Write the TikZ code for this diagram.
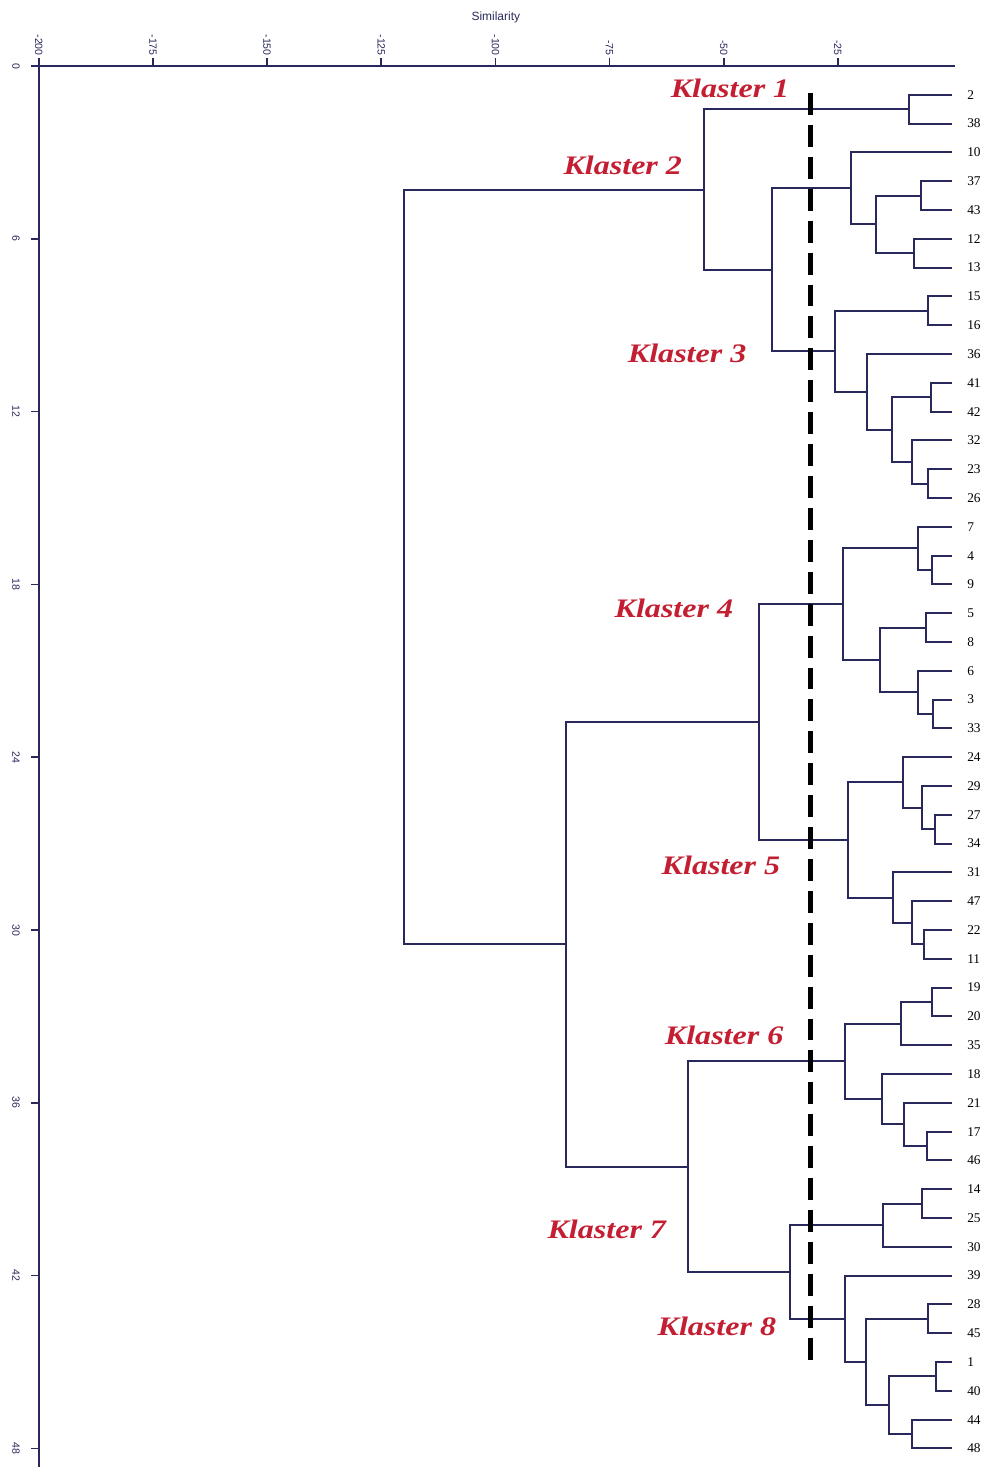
\documentclass[tikz,border=0pt]{standalone}
\usepackage{fontspec}
\setmainfont{Liberation Serif}
\setsansfont{Liberation Sans}
\usetikzlibrary{calc}
\definecolor{navy}{RGB}{40,40,90}
\definecolor{klred}{RGB}{196,30,50}

\begin{document}
\begin{tikzpicture}[x=0.11415cm,y=-0.72cm]
	\tikzset{link/.style={navy,line width=1.4pt},
		leaf/.style={anchor=west,inner sep=0pt,xshift=0.375cm,font=\fontsize{9.5}{11}\selectfont},
		klaster/.style={klred,xscale=1.2,font=\fontsize{19}{22}\selectfont\bfseries\itshape},
		tick/.style={rotate=-90,inner sep=1pt,navy,font=\sffamily\fontsize{7.5}{8}\selectfont}}
	
	\useasboundingbox (-23.8cm,1.65cm) rectangle (0.825cm,-35.025cm);
	
	% axes
	\coordinate (O) at (-200,0);
	\coordinate (xend) at (0.7,0);
	\coordinate (yend) at (-200,48.7);
	\draw[navy,line width=1.8pt] (xend) -- (O) -- (yend);
	
	\foreach \s in {-200,-175,...,-25}
		\draw[navy,line width=1.2pt] (\s,0) -- (\s,-0.28) node[tick,anchor=east] {\s};
	\foreach \k in {0,6,...,48}{
		\draw[navy,line width=1.2pt] (-200,\k) -- (-201.75,\k);
		\node[tick] (y\k) at (-205,\k) {\k};
	}
	\node[navy,font=\sffamily\fontsize{8.5}{10}\selectfont] (sim) at (-99.9,-1.7) {Similarity};
	
	% leaves
	\foreach \n [count=\i] in {2,38,10,37,43,12,13,15,16,36,41,42,32,23,26,7,4,9,5,8,6,3,33,24,29,27,34,31,47,22,11,19,20,35,18,21,17,46,14,25,30,39,28,45,1,40,44,48}{
		\coordinate (l\n) at (0,\i);
		\node[leaf] (n\n) at (l\n) {\n};
	}
	
	% joins: name/level/height/child/child
	\foreach \m/\x/\y/\a/\b in {
		m1/-9.4/1.5/l2/l38,
		m2/-6.8/4.5/l37/l43, m3/-8.3/6.5/l12/l13, m4/-16.6/5.5/m2/m3, m5/-22.1/4.25/l10/m4,
		m6/-5.3/8.5/l15/l16, m7/-4.6/11.5/l41/l42, m8/-5.3/14.5/l23/l26, m9/-8.8/13.75/l32/m8,
		m10/-13.1/12.625/m7/m9, m11/-18.6/11.3125/l36/m10, m12/-25.6/9.90625/m6/m11,
		m13/-39.4/7.078/m5/m12, m14/-54.3/4.289/m1/m13,
		m15/-4.4/17.5/l4/l9, m16/-7.4/16.75/l7/m15, m17/-5.7/19.5/l5/l8, m18/-4.2/22.5/l3/l33,
		m19/-7.4/21.75/l6/m18, m20/-15.8/20.625/m17/m19, m21/-23.9/18.6875/m16/m20,
		m22/-3.7/26.5/l27/l34, m23/-6.6/25.75/l29/m22, m24/-10.7/24.875/l24/m23,
		m25/-6.1/30.5/l22/l11, m26/-8.8/29.75/l47/m25, m27/-12.9/28.875/l31/m26,
		m28/-22.8/26.875/m24/m27, m29/-42.3/22.78/m21/m28,
		m30/-4.4/32.5/l19/l20, m31/-11.2/33.25/m30/l35, m32/-5.5/37.5/l17/l46,
		m33/-10.5/36.75/l21/m32, m34/-15.3/35.875/l18/m33, m35/-23.4/34.5625/m31/m34,
		m36/-6.6/39.5/l14/l25, m37/-15.1/40.25/m36/l30,
		m38/-5.3/43.5/l28/l45, m39/-3.5/45.5/l1/l40, m40/-8.8/47.5/l44/l48,
		m41/-13.8/46.5/m39/m40, m42/-18.8/45/m38/m41, m43/-23.4/43.5/l39/m42,
		m44/-35.5/41.875/m37/m43, m45/-57.8/38.22/m35/m44,
		m46/-84.5/30.5/m29/m45, m47/-120/17.39/m14/m46}{
		\coordinate (\m) at (\x,\y);
		\draw[link] (\a) -| (\m) |- (\b);
	}
	
	% cut line
	\coordinate (cutT) at (-30.9,0.94);
	\coordinate (cutB) at (-30.9,45.17);
	\draw[black,line width=3.5pt,dash pattern=on 15.6pt off 7.1pt] (cutT) -- (cutB);
	
	\node[klaster] (k1) at (-48.6,0.76) {Klaster 1};
	\node[klaster] (k2) at (-72.1,3.44) {Klaster 2};
	\node[klaster] (k3) at (-58.0,9.97) {Klaster 3};
	\node[klaster] (k4) at (-60.9,18.82) {Klaster 4};
	\node[klaster] (k5) at (-50.6,27.74) {Klaster 5};
	\node[klaster] (k6) at (-49.9,33.65) {Klaster 6};
	\node[klaster] (k7) at (-75.6,40.38) {Klaster 7};
	\node[klaster] (k8) at (-51.5,43.75) {Klaster 8};
\end{tikzpicture}
\end{document}
